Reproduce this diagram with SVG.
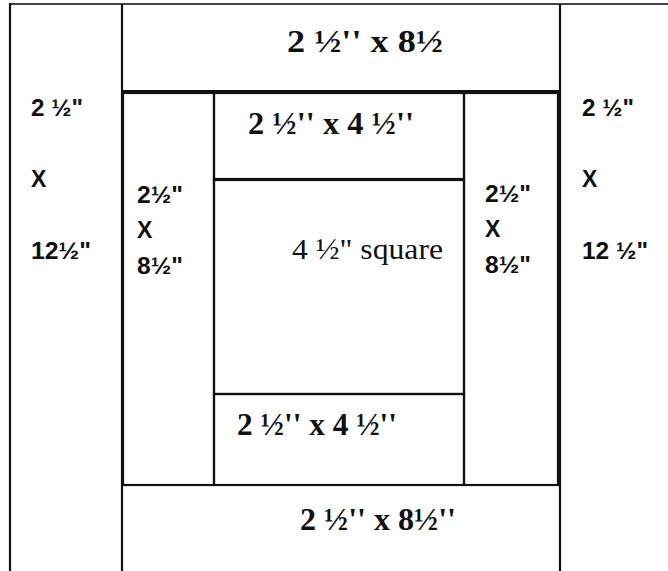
<svg xmlns="http://www.w3.org/2000/svg" width="668" height="571" viewBox="0 0 668 571">
  <style>
    .ln { stroke: #111; stroke-width: 2.2; fill: none; }
    .top { stroke: #444; stroke-width: 2; fill: none; }
    .sans { font-family: "Liberation Sans", "Open Sans", sans-serif; font-weight: bold; font-size: 23px; fill: #111; }
    .serifb { font-family: "Liberation Serif", "Times New Roman", serif; font-weight: bold; font-size: 31px; fill: #111; }
    .serif { font-family: "Liberation Serif", "Times New Roman", serif; font-size: 29px; fill: #111; }
  </style>
  <rect x="0" y="0" width="668" height="571" fill="#fff"/>
  <g id="connectors">
    <line class="top" x1="10" y1="4" x2="668" y2="4"/>
    <line class="ln" x1="10" y1="3" x2="10" y2="571"/>
    <line class="ln" x1="122" y1="4" x2="122" y2="571"/>
    <line class="ln" x1="560" y1="4" x2="560" y2="571"/>
    <line class="ln" x1="122" y1="91" x2="560" y2="91"/>
    <line class="ln" x1="122" y1="485" x2="560" y2="485"/>
  </g>
  <g id="left-strip">
    <text class="sans" x="31" y="116" textLength="52" lengthAdjust="spacingAndGlyphs">2 ½"</text>
    <text class="sans" x="31" y="187">X</text>
    <text class="sans" x="31" y="259" textLength="60" lengthAdjust="spacingAndGlyphs">12½"</text>
  </g>
  <g id="top-strip">
    <text class="serifb" x="287" y="52" textLength="156" lengthAdjust="spacingAndGlyphs">2 ½'' x 8½</text>
  </g>
  <g id="right-strip">
    <text class="sans" x="582" y="116" textLength="52" lengthAdjust="spacingAndGlyphs">2 ½"</text>
    <text class="sans" x="582" y="187">X</text>
    <text class="sans" x="582" y="259" textLength="66" lengthAdjust="spacingAndGlyphs">12 ½"</text>
  </g>
  <g id="bottom-strip">
    <text class="serifb" x="300" y="530" textLength="156" lengthAdjust="spacingAndGlyphs">2 ½'' x 8½''</text>
  </g>
  <g id="inner-left">
    <rect class="ln" x="123" y="93" width="91" height="392"/>
    <text class="sans" x="137" y="203" textLength="46" lengthAdjust="spacingAndGlyphs">2½"</text>
    <text class="sans" x="137" y="238">X</text>
    <text class="sans" x="137" y="274" textLength="46" lengthAdjust="spacingAndGlyphs">8½"</text>
  </g>
  <g id="inner-right">
    <rect class="ln" x="464" y="93" width="94" height="392"/>
    <text class="sans" x="485" y="202" textLength="46" lengthAdjust="spacingAndGlyphs">2½"</text>
    <text class="sans" x="485" y="237">X</text>
    <text class="sans" x="485" y="273" textLength="46" lengthAdjust="spacingAndGlyphs">8½"</text>
  </g>
  <g id="center-top">
    <rect class="ln" x="214" y="93" width="250" height="86"/>
    <text class="serifb" x="248" y="134" textLength="166" lengthAdjust="spacingAndGlyphs">2 ½'' x 4 ½''</text>
  </g>
  <g id="center-square">
    <rect class="ln" x="214" y="180" width="250" height="214"/>
    <text class="serif" x="292" y="259" textLength="151" lengthAdjust="spacingAndGlyphs">4 ½" square</text>
  </g>
  <g id="center-bottom">
    <rect class="ln" x="214" y="394" width="250" height="91"/>
    <text class="serifb" x="237" y="435" textLength="160" lengthAdjust="spacingAndGlyphs">2 ½'' x 4 ½''</text>
  </g>
</svg>
